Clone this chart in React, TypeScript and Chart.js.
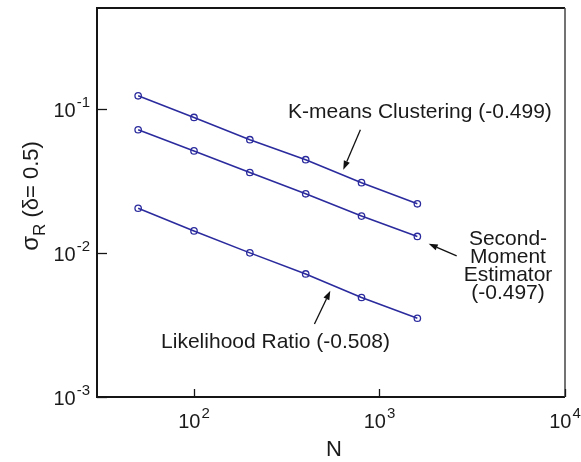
import React, { useEffect, useRef } from "react";
import { Chart, registerables } from "chart.js";

Chart.register(...registerables);

// Sample sizes and the measured standard deviation of R for each estimator
const N_VALUES = [50, 100, 200, 400, 800, 1600];
const KMEANS = [0.123, 0.087, 0.061, 0.0443, 0.0307, 0.0219];
const SECOND_MOMENT = [0.0715, 0.051, 0.0361, 0.0257, 0.018, 0.013];
const LIKELIHOOD = [0.0204, 0.0142, 0.01, 0.00714, 0.0049, 0.00352];

// Decade ticks: value and exponent text
const X_TICKS = [100, 1000, 10000];
const X_TICK_EXPONENTS = ["2", "3", "4"];
const Y_TICKS = [0.001, 0.01, 0.1];
const Y_TICK_EXPONENTS = ["-3", "-2", "-1"];

const LINE_COLOR = "#2b2b9e";
const FONT = "'Liberation Sans', Arial, Helvetica, sans-serif";

function drawArrow(ctx: CanvasRenderingContext2D, x0: number, y0: number, x1: number, y1: number) {
  const ang = Math.atan2(y1 - y0, x1 - x0);
  const head = 9;
  const half = 3.2;
  const bx = x1 - head * Math.cos(ang);
  const by = y1 - head * Math.sin(ang);
  ctx.save();
  ctx.strokeStyle = "#111";
  ctx.fillStyle = "#111";
  ctx.lineWidth = 1.3;
  ctx.beginPath();
  ctx.moveTo(x0, y0);
  ctx.lineTo(bx, by);
  ctx.stroke();
  ctx.beginPath();
  ctx.moveTo(x1, y1);
  ctx.lineTo(bx + half * Math.sin(ang), by - half * Math.cos(ang));
  ctx.lineTo(bx - half * Math.sin(ang), by + half * Math.cos(ang));
  ctx.closePath();
  ctx.fill();
  ctx.restore();
}

// Draws "10" with a raised exponent; anchored at its right end or its centre
function drawPow(ctx: CanvasRenderingContext2D, exp: string, x: number, y: number, align: "right" | "center") {
  const base = `20px ${FONT}`;
  const sup = `15px ${FONT}`;
  ctx.font = base;
  const wb = ctx.measureText("10").width;
  ctx.font = sup;
  const we = ctx.measureText(exp).width;
  const total = wb + we + 1;
  const left = align === "right" ? x - total : x - total / 2;
  ctx.textAlign = "left";
  ctx.textBaseline = "alphabetic";
  ctx.font = base;
  ctx.fillText("10", left, y);
  ctx.font = sup;
  ctx.fillText(exp, left + wb + 1, y - 10);
}

const framePlugin = {
  id: "frameAndLabels",
  afterDraw(chart: any) {
    const ctx: CanvasRenderingContext2D = chart.ctx;
    const { left, right, top, bottom } = chart.chartArea;
    const xs = chart.scales.x;
    const ys = chart.scales.y;
    ctx.save();
    ctx.fillStyle = "#1a1a1a";

    // frame
    ctx.strokeStyle = "#151515";
    ctx.lineWidth = 2;
    ctx.beginPath();
    ctx.moveTo(right, top);
    ctx.lineTo(left, top);
    ctx.lineTo(left, bottom);
    ctx.lineTo(right, bottom);
    ctx.stroke();
    ctx.strokeStyle = "#444";
    ctx.lineWidth = 1.5;
    ctx.beginPath();
    ctx.moveTo(right, top);
    ctx.lineTo(right, bottom);
    ctx.stroke();

    // inward ticks
    ctx.strokeStyle = "#151515";
    ctx.lineWidth = 1.3;
    X_TICKS.forEach((v) => {
      const px = Math.round(xs.getPixelForValue(v)) + 0.5;
      ctx.beginPath();
      ctx.moveTo(px, bottom);
      ctx.lineTo(px, bottom - 8);
      ctx.stroke();
    });
    Y_TICKS.forEach((v) => {
      const py = Math.round(ys.getPixelForValue(v)) + 0.5;
      ctx.beginPath();
      ctx.moveTo(left, py);
      ctx.lineTo(left + 10, py);
      ctx.stroke();
    });

    // tick labels
    X_TICKS.forEach((v, i) => {
      drawPow(ctx, X_TICK_EXPONENTS[i], xs.getPixelForValue(v), bottom + 31, "center");
    });
    Y_TICKS.forEach((v, i) => {
      drawPow(ctx, Y_TICK_EXPONENTS[i], left - 7, ys.getPixelForValue(v) + 8, "right");
    });

    // axis titles
    ctx.font = `22px ${FONT}`;
    ctx.textAlign = "center";
    ctx.textBaseline = "alphabetic";
    ctx.fillText("N", (left + right) / 2 + 3, bottom + 59);

    ctx.save();
    ctx.translate(38, 196);
    ctx.rotate(-Math.PI / 2);
    const parts: [string, string, number][] = [
      ["σ", `24px ${FONT}`, 0],
      ["R", `17px ${FONT}`, 7],
      [" (δ= 0.5)", `22px ${FONT}`, 0],
    ];
    let tw = 0;
    parts.forEach(([t, f]) => {
      ctx.font = f;
      tw += ctx.measureText(t).width;
    });
    let cx = -tw / 2;
    ctx.textAlign = "left";
    parts.forEach(([t, f, dy]) => {
      ctx.font = f;
      ctx.fillText(t, cx, dy);
      cx += ctx.measureText(t).width;
    });
    ctx.restore();

    // annotations placed in data coordinates (text baselines)
    const P = (x: number, y: number) => [xs.getPixelForValue(x), ys.getPixelForValue(y)];
    ctx.font = `21px ${FONT}`;
    ctx.textAlign = "center";
    ctx.textBaseline = "alphabetic";
    const [kx, ky] = P(1652, 0.0863);
    ctx.fillText("K-means Clustering (-0.499)", kx, ky);
    const [lx, ly] = P(275, 0.00219);
    ctx.fillText("Likelihood Ratio (-0.508)", lx, ly);
    const [sx, sy] = P(4928, 0.01135);
    ["Second-", "Moment", "Estimator", "(-0.497)"].forEach((t, i) => {
      ctx.fillText(t, sx, sy + i * 18);
    });

    const a1 = P(789, 0.0714), t1 = P(638, 0.0377);
    drawArrow(ctx, a1[0], a1[1], t1[0], t1[1]);
    const a2 = P(2606, 0.00953), t2 = P(1841, 0.01155);
    drawArrow(ctx, a2[0], a2[1], t2[0], t2[1]);
    const a3 = P(446, 0.00321), t3 = P(543, 0.00545);
    drawArrow(ctx, a3[0], a3[1], t3[0], t3[1]);

    ctx.restore();
  },
};

function series(label: string, values: number[]) {
  return {
    label,
    data: N_VALUES.map((x, i) => ({ x, y: values[i] })),
    borderColor: LINE_COLOR,
    backgroundColor: "rgba(0,0,0,0)",
    borderWidth: 1.6,
    pointStyle: "circle",
    pointRadius: 3.2,
    pointBorderWidth: 1.3,
    pointBorderColor: LINE_COLOR,
    pointBackgroundColor: "rgba(0,0,0,0)",
    tension: 0,
  };
}

export default function App() {
  const ref = useRef<HTMLCanvasElement | null>(null);

  useEffect(() => {
    document.body.style.margin = "0";
    if (!ref.current) return;
    const chart = new Chart(ref.current, {
      type: "line",
      data: {
        datasets: [
          series("K-means Clustering", KMEANS),
          series("Second-Moment Estimator", SECOND_MOMENT),
          series("Likelihood Ratio", LIKELIHOOD),
        ],
      },
      options: {
        animation: false,
        responsive: false,
        devicePixelRatio: 1,
        layout: { padding: { left: 97, right: 16, top: 8, bottom: 65 } },
        plugins: { legend: { display: false }, tooltip: { enabled: false } },
        scales: {
          x: { type: "logarithmic", min: 30, max: 10000, display: false },
          y: { type: "logarithmic", min: 0.001, max: 0.5, display: false },
        },
      },
      plugins: [framePlugin],
    });
    return () => chart.destroy();
  }, []);

  return (
    <div style={{ width: 581, height: 462, background: "#fff" }}>
      <canvas ref={ref} width={581} height={462} style={{ display: "block" }} />
    </div>
  );
}
